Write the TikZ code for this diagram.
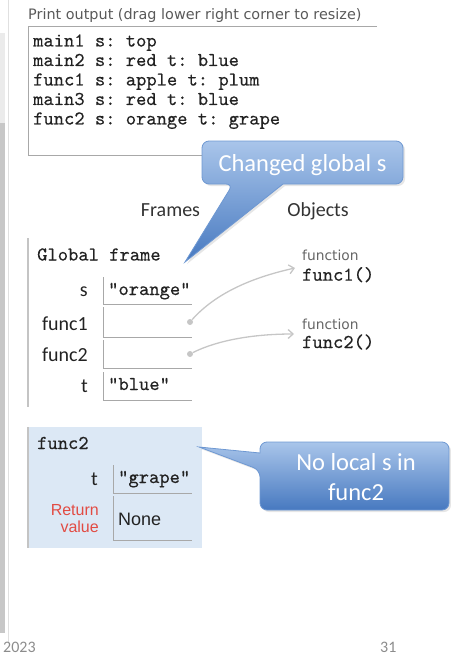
\documentclass[tikz,border=0pt]{standalone}
\usepackage{fontspec}
\setmainfont{Carlito}
\setmonofont{lmmono10-regular.otf}[FakeBold=0.4]
\newfontfamily\verdfont{DejaVu Sans}
\newfontfamily\arialfont{Liberation Sans}
\usepackage{xcolor}
\usetikzlibrary{arrows.meta, positioning, shadows}

\definecolor{framebg}{HTML}{DCE8F5}
\definecolor{cellgray}{HTML}{A8A8A8}
\definecolor{bargray}{HTML}{C4C4C4}
\definecolor{calltop}{HTML}{A9C5EA}
\definecolor{callbot}{HTML}{4779C0}
\definecolor{calledge}{HTML}{6E98D2}
\definecolor{retred}{HTML}{E24B43}
\definecolor{ptrgray}{HTML}{C6C6C6}
\definecolor{inkgray}{HTML}{222222}

\tikzset{
  mono/.style={font=\fontsize{19.6}{22}\ttfamily, text=inkgray, anchor=base west, inner sep=0},
  printlbl/.style={font=\fontsize{14.4}{16}\verdfont, text=black!65, anchor=base west, inner sep=0},
  fnlbl/.style={font=\fontsize{13.8}{16}\verdfont, text=black!60, anchor=base west, inner sep=0},
  heading/.style={font=\fontsize{20}{24}\selectfont, text=black!80, anchor=base, inner sep=0},
  varlbl/.style={font=\fontsize{20}{24}\selectfont, text=inkgray, anchor=base east, inner sep=0},
  retlbl/.style={font=\fontsize{16}{18}\arialfont, text=retred, anchor=base east, inner sep=0},
  cell/.style={draw=cellgray, line width=1},
  framebar/.style={draw=bargray, line width=1.5},
  ptrdot/.style={circle, fill=ptrgray, inner sep=0, minimum size=6},
  ptr/.style={draw=ptrgray, line width=1.3, -{Straight Barb[length=5pt, width=9pt]}},
  callout/.style={top color=calltop, bottom color=callbot, draw=calledge, line width=0.8,
    drop shadow={opacity=0.2, shadow xshift=2pt, shadow yshift=-2pt}},
  calltext/.style={font=\fontsize{24.5}{29}\selectfont, text=white, anchor=base, inner sep=0},
  footer/.style={font=\fontsize{16}{18}\selectfont, text=black!45, anchor=base west, inner sep=0}
}

\begin{document}
\begin{tikzpicture}[x=1pt, y=-1pt]
  \useasboundingbox (0,0) rectangle (450,658);
  % slide edge
  \fill[black!8]  (0,33) rectangle (5,123);
  \fill[black!22] (0,123) rectangle (5,633);
  \draw[black!12, line width=1] (8,0) -- (8,642);

  % print output
  \node[printlbl] (plbl) at (28,19.5) {Print output (drag lower right corner to resize)};
  \draw[cell] (377,27) -- (28,27) -- (28,155) -- (300,155);
  \node[mono] (out1) at (33,46.5)  {main1 s: top};
  \node[mono] (out2) at (33,66)    {main2 s: red t: blue};
  \node[mono] (out3) at (33,85.5)  {func1 s: apple t: plum};
  \node[mono] (out4) at (33,105)   {main3 s: red t: blue};
  \node[mono] (out5) at (33,124.5) {func2 s: orange t: grape};

  % headings
  \node[heading] (frames)  at (170.5,216) {Frames};
  \node[heading] (objects) at (318,216)   {Objects};

  % global frame
  \draw[framebar] (28,238) -- (28,407);
  \node[mono] (gf) at (37,260.5) {Global frame};
  \draw[cell] (103,277) -- (103,304) -- (192,304);
  \draw[cell] (103,307) -- (103,337) -- (192,337);
  \draw[cell] (103,340) -- (103,368) -- (192,368);
  \draw[cell] (103,372) -- (103,400) -- (192,400);
  \node[varlbl] (ls)  at (88,296.5) {s};
  \node[varlbl] (lf1) at (88,330)   {func1};
  \node[varlbl] (lf2) at (88,361)   {func2};
  \node[varlbl] (lt)  at (88,392.5) {t};
  \node[mono] (vs) at (108,295) {"orange"};
  \node[mono] (vt) at (108,390) {"blue"};

  % objects
  \node[fnlbl] (fn1)     at (302,260.7) {function};
  \node[mono]  (fn1name) at (302,280.7) {func1()};
  \node[fnlbl] (fn2)     at (302,329)   {function};
  \node[mono]  (fn2name) at (302,348)   {func2()};

  % pointers
  \node[ptrdot] (d1) at (190,322) {};
  \node[ptrdot] (d2) at (190,354) {};
  \coordinate (a1) at (295,268);
  \coordinate (a2) at (294,334);
  \draw[ptr] (d1) .. controls +(25,-28) and +(-45,10) .. (a1);
  \draw[ptr] (d2) .. controls +(28,-14) and +(-40,0) .. (a2);

  % func2 frame
  \fill[framebg] (27,427) rectangle (202,548);
  \draw[framebar] (28,427) -- (28,548);
  \node[mono] (f2) at (37,449) {func2};
  \draw[cell] (113,465) -- (113,493) -- (192,493);
  \draw[cell] (113,496) -- (113,540) -- (192,540);
  \node[varlbl] (lt2)  at (98,485)   {t};
  \node[mono]   (vt2)  at (118,483)  {"grape"};
  \node[retlbl] (ret)  at (99,515)   {Return};
  \node[retlbl] (retv) at (99,532.7) {value};
  \node[font=\fontsize{18}{20}\arialfont, text=inkgray, anchor=base west, inner sep=0] (vnone) at (118,525) {None};

  % callouts
  \shade[callout] (302,141) [rounded corners=7] -- (202,141) -- (202,184) -- (233,184)
    [sharp corners] -- (185,262) -- (283,184) [rounded corners=7] -- (403,184) -- (403,141) -- cycle;
  \node[calltext] (cg) at (302.5,171.7) {Changed global s};
  \shade[callout] (355,442) [rounded corners=7] -- (449,442) -- (449,510) -- (260,510) -- (260,470)
    [sharp corners] -- (199,447) -- (260,453) [rounded corners=7] -- (260,442) -- cycle;
  \node[calltext] (nl1) at (356,470) {No local s in};
  \node[calltext] (nl2) at (356,500) {func2};

  % footer
  \node[footer] (date) at (3,652)   {2023};
  \node[footer] (page) at (380,652) {31};
\end{tikzpicture}
\end{document}
